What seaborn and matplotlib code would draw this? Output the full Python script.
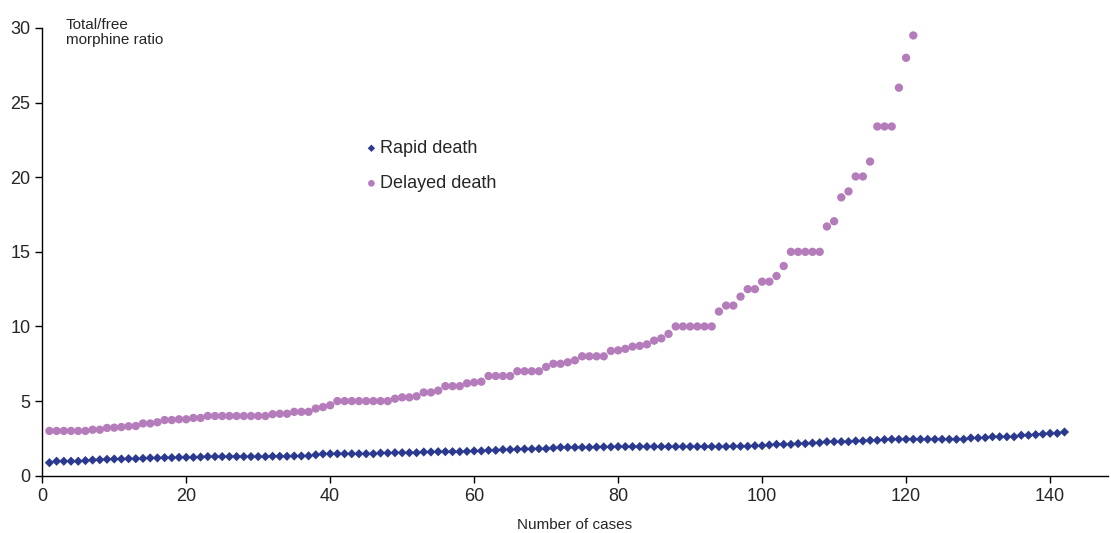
import numpy as np
import pandas as pd
import matplotlib
matplotlib.use("Agg")
import matplotlib.pyplot as plt
import seaborn as sns

# Total/free morphine ratio per case
delayed = [3.0, 3.0, 3.0, 3.0, 3.0, 3.0, 3.08, 3.08, 3.2, 3.22,
           3.26, 3.31, 3.33, 3.5, 3.5, 3.58, 3.73, 3.73, 3.78, 3.78,
           3.87, 3.87, 4.0, 4.0, 4.0, 4.0, 4.0, 4.0, 4.0, 4.0,
           4.0, 4.12, 4.15, 4.15, 4.28, 4.28, 4.28, 4.5, 4.6, 4.72,
           5.0, 5.0, 5.0, 5.0, 5.0, 5.0, 5.0, 5.0, 5.16, 5.25,
           5.25, 5.32, 5.58, 5.58, 5.7, 6.0, 6.0, 6.0, 6.19, 6.25,
           6.3, 6.68, 6.68, 6.68, 6.68, 7.0, 7.0, 7.0, 7.0, 7.29,
           7.5, 7.5, 7.6, 7.73, 8.0, 8.0, 8.0, 8.0, 8.36, 8.4,
           8.5, 8.65, 8.7, 8.8, 9.05, 9.2, 9.5, 10.0, 10.0, 10.0,
           10.0, 10.0, 10.0, 11.0, 11.4, 11.4, 12.0, 12.5, 12.5, 13.0,
           13.0, 13.38, 14.05, 15.0, 15.0, 15.0, 15.0, 15.0, 16.7, 17.05,
           18.65, 19.05, 20.05, 20.05, 21.05, 23.4, 23.4, 23.4, 26.0, 28.0, 29.5]

rapid = [0.87, 0.97, 0.97, 0.97, 0.97, 1.01, 1.05, 1.07, 1.1, 1.12,
         1.12, 1.14, 1.14, 1.16, 1.19, 1.19, 1.21, 1.21, 1.23, 1.23,
         1.23, 1.25, 1.28, 1.28, 1.28, 1.28, 1.28, 1.28, 1.28, 1.28,
         1.28, 1.3, 1.3, 1.3, 1.32, 1.32, 1.33, 1.4, 1.46, 1.47,
         1.47, 1.47, 1.47, 1.47, 1.47, 1.47, 1.52, 1.52, 1.54, 1.54,
         1.54, 1.54, 1.59, 1.59, 1.61, 1.61, 1.61, 1.61, 1.63, 1.66,
         1.66, 1.7, 1.7, 1.75, 1.75, 1.77, 1.79, 1.79, 1.81, 1.81,
         1.86, 1.9, 1.9, 1.9, 1.9, 1.9, 1.92, 1.93, 1.93, 1.95,
         1.95, 1.95, 1.95, 1.95, 1.95, 1.95, 1.95, 1.95, 1.95, 1.95,
         1.95, 1.95, 1.95, 1.95, 1.95, 1.97, 1.97, 1.97, 2.01, 2.01,
         2.06, 2.1, 2.1, 2.1, 2.15, 2.15, 2.19, 2.21, 2.28, 2.28,
         2.28, 2.28, 2.33, 2.33, 2.37, 2.37, 2.42, 2.44, 2.44, 2.44,
         2.44, 2.44, 2.44, 2.44, 2.44, 2.44, 2.44, 2.44, 2.53, 2.53,
         2.55, 2.61, 2.61, 2.61, 2.61, 2.71, 2.71, 2.75, 2.79, 2.84, 2.84, 2.93]

x_ticks = [0, 20, 40, 60, 80, 100, 120, 140]
y_ticks = [0, 5, 10, 15, 20, 25, 30]

df_rapid = pd.DataFrame({"case": np.arange(1, len(rapid) + 1), "ratio": rapid})
df_delayed = pd.DataFrame({"case": np.arange(1, len(delayed) + 1), "ratio": delayed})

sns.set_style("ticks")
plt.rcParams["font.family"] = ["Liberation Sans", "DejaVu Sans"]

fig = plt.figure(figsize=(11.11, 5.33), dpi=100)
ax = fig.add_axes([0.038, 0.1075, 0.959, 0.84])

sns.scatterplot(data=df_rapid, x="case", y="ratio", ax=ax, marker="D", s=22,
                color="#2b3a8f", edgecolor="none", label="Rapid death", zorder=3)
sns.scatterplot(data=df_delayed, x="case", y="ratio", ax=ax, marker="o", s=36,
                color="#b47cba", edgecolor="none", label="Delayed death", zorder=2)

ax.set_xlim(0, 148)
ax.set_ylim(0, 30)
ax.set_xticks(x_ticks)
ax.set_yticks(y_ticks)
ax.tick_params(axis="both", labelsize=13, length=5, width=1, color="black", direction="out")
ax.set_xlabel("Number of cases", fontsize=11, labelpad=10)
ax.set_ylabel("")
sns.despine(ax=ax)
for s in ["left", "bottom"]:
    ax.spines[s].set_color("black")
    ax.spines[s].set_linewidth(1)

ax.text(0.022, 1.022, "Total/free\nmorphine ratio", transform=ax.transAxes,
        fontsize=11, va="top", ha="left", linespacing=1.1)

ax.legend(loc="upper left", bbox_to_anchor=(366 / 1111, 1 - 140 / 533),
          bbox_transform=fig.transFigure, frameon=False, fontsize=13,
          markerscale=0.8, handlelength=0.6, handletextpad=0.2,
          labelspacing=1.0, borderpad=0, borderaxespad=0)

fig.savefig("out.png", dpi=100)
